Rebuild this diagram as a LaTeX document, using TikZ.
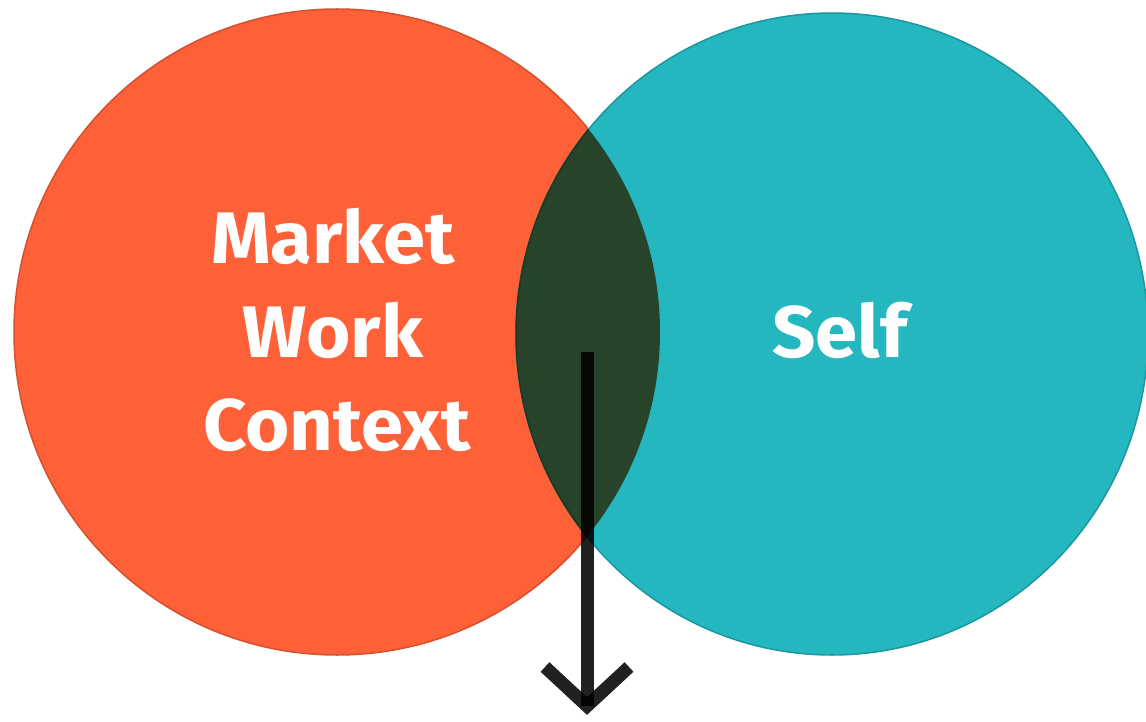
\documentclass[tikz,border=0pt]{standalone}
\usepackage{fontspec}
\setmainfont{Fira Sans}[FakeStretch=1.04]
\definecolor{orangeC}{RGB}{254,97,56}
\definecolor{orangeE}{RGB}{214,80,46}
\definecolor{tealC}{RGB}{37,183,191}
\definecolor{tealE}{RGB}{30,150,158}
\definecolor{darkC}{RGB}{39,67,42}
\definecolor{arrowC}{RGB}{33,33,33}
\tikzset{
  lbl/.style={text=white, font=\bfseries\fontsize{73}{93}\selectfont, align=center, inner sep=0pt},
  arrowline/.style={draw=black, draw opacity=0.87, line width=13pt}
}
\begin{document}
\begin{tikzpicture}[x=1pt,y=-1pt]
\useasboundingbox (0,0) rectangle (1146,722);
\clip (0,0) rectangle (1146,722);
\fill[white] (0,0) rectangle (1146,722);
% circles
\fill[orangeC, draw=orangeE, line width=1.5pt] (337,332) ellipse [x radius=323, y radius=323];
\fill[tealC, draw=tealE, line width=1.5pt] (832,334) ellipse [x radius=316, y radius=321];
\begin{scope}
  \clip (337,332) ellipse [x radius=323, y radius=323];
  \fill[darkC, draw=darkC!80!black, line width=1.5pt] (832,334) ellipse [x radius=316, y radius=321];
\end{scope}
% labels
\node[lbl, anchor=base] (market) at (333,264) {Market};
\node[lbl, anchor=base] (work) at (333,357) {Work};
\node[lbl, anchor=base] (context) at (337,450) {Context};
\node[lbl, anchor=base] (self) at (840,357) {Self};
% arrow
\coordinate (start) at (587,352);
\coordinate (tip) at (587,706);
\coordinate (armL) at (545,667);
\coordinate (armR) at (629,667);
\draw[arrowline] (start) -- (tip);
\draw[arrowline, line join=miter] (armL) -- (tip) -- (armR);
\end{tikzpicture}
\end{document}
